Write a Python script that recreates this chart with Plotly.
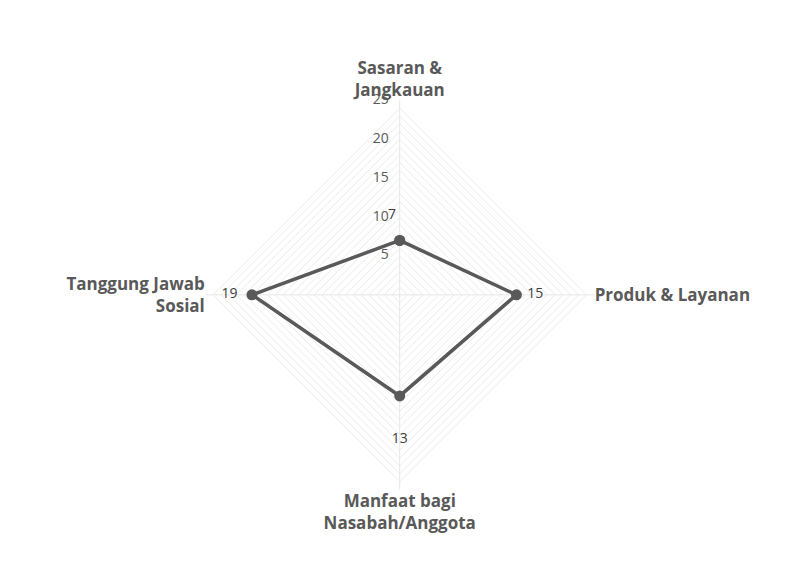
import plotly.graph_objects as go

categories = ["<b>Sasaran &<br>Jangkauan</b>", "<b>Produk & Layanan</b>", "<b>Manfaat bagi<br>Nasabah/Anggota</b>", "<b>Tanggung Jawab<br>Sosial</b>"]
values = [7, 15, 13, 19]
value_text = ["7 <br> ", "   15", "<br><br>13", "19    "]
label_pos = ["top left", "middle right", "bottom center", "middle left"]
radial_ticks = list(range(0, 26))
radial_labels = [0, 5, 10, 15, 20, 25]

fig = go.Figure()
fig.add_trace(go.Scatterpolar(
    r=radial_labels, theta=[categories[0]] * len(radial_labels),
    mode="text", text=[f"{v}   " for v in radial_labels], textposition="middle left",
    textfont=dict(size=14, color="#595959", family="Open Sans"),
    cliponaxis=False, showlegend=False, hoverinfo="skip",
))
fig.add_trace(go.Scatterpolar(
    r=values + values[:1], theta=categories + categories[:1],
    mode="lines+markers",
    line=dict(color="#595959", width=3.5),
    marker=dict(size=11, color="#595959"),
    cliponaxis=False, showlegend=False,
))
fig.add_trace(go.Scatterpolar(
    r=values, theta=categories, mode="text",
    text=value_text, textposition=label_pos,
    textfont=dict(size=14, color="#404040", family="Open Sans"),
    cliponaxis=False, showlegend=False, hoverinfo="skip",
))
fig.update_layout(
    width=797, height=583, margin=dict(l=0, r=0, t=0, b=0),
    paper_bgcolor="white", font=dict(family="Open Sans", color="#595959"),
    polar=dict(
        domain=dict(x=[0.2435, 0.7395], y=[0.1745, 0.8415]),
        bgcolor="white", gridshape="linear",
        angularaxis=dict(direction="clockwise", rotation=90, showline=False,
                         gridcolor="#e6e6e6", ticks="",
                         tickfont=dict(size=17, color="#595959", family="Open Sans"),
                         categoryarray=categories, categoryorder="array"),
        radialaxis=dict(range=[0, 25], tickvals=radial_ticks, showticklabels=False,
                        angle=90, showline=False, ticks="",
                        gridcolor="#ececec", gridwidth=1),
    ),
)
fig.write_html("out.html")
